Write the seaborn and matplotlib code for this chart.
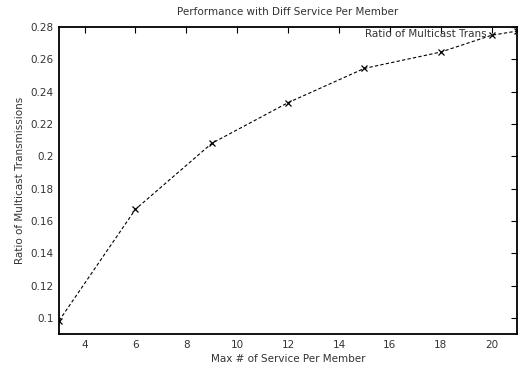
import matplotlib
matplotlib.use("Agg")
import matplotlib.pyplot as plt
import seaborn as sns
import pandas as pd

max_service = [3, 6, 9, 12, 15, 18, 20, 21]
ratio = [0.0983, 0.1672, 0.2080, 0.2332, 0.2544, 0.2645, 0.2749, 0.2775]
x_ticks = [4, 6, 8, 10, 12, 14, 16, 18, 20]
y_ticks = [0.1, 0.12, 0.14, 0.16, 0.18, 0.2, 0.22, 0.24, 0.26, 0.28]
y_tick_labels = ["0.1", "0.12", "0.14", "0.16", "0.18", "0.2", "0.22", "0.24", "0.26", "0.28"]

sns.set_style("white")
plt.rcParams['font.family'] = ['DejaVu Sans']

df = pd.DataFrame({"x": max_service, "y": ratio})

fig = plt.figure(figsize=(5.21, 3.71), dpi=100)
ax = fig.add_axes([0.1135, 0.0997, 0.879, 0.8275])

sns.lineplot(data=df, x="x", y="y", ax=ax, color="black", linestyle=(0, (3, 2)),
             linewidth=0.8, marker="x", markersize=4, markeredgewidth=0.9,
             markeredgecolor="black")

ax.set_xlim(3, 21)
ax.set_ylim(0.09, 0.28)
ax.set_xticks(x_ticks)
ax.set_xticklabels([str(t) for t in x_ticks])
ax.set_yticks(y_ticks)
ax.set_yticklabels(y_tick_labels)

for s in ax.spines.values():
    s.set_visible(True)
    s.set_color("black")
    s.set_linewidth(1.3)

ax.tick_params(direction="in", length=4.5, width=0.8, top=True, right=True,
               labelsize=7.5, colors="black", labelcolor="#333333", pad=4)

ax.set_xlabel("Max # of Service Per Member", fontsize=7.5, color="#333333", labelpad=3)
ax.set_ylabel("Ratio of Multicast Transmissions", fontsize=7.5, color="#333333", labelpad=4)
ax.set_title("Performance with Diff Service Per Member", fontsize=7.5, color="#333333", pad=9)

ax.text(0.934, 0.977, "Ratio of Multicast Trans", transform=ax.transAxes,
        ha="right", va="center", fontsize=7.5, color="#333333")

fig.savefig("out.png", dpi=100)
